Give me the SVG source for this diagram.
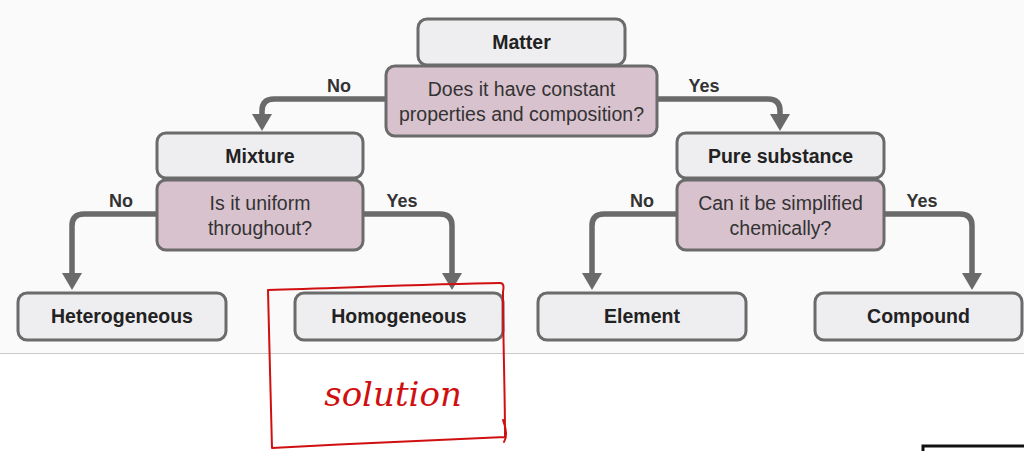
<svg xmlns="http://www.w3.org/2000/svg" width="1024" height="451" viewBox="0 0 1024 451">
<defs>
<style>
.box{fill:#eeedef;stroke:#6b6b6b;stroke-width:3}
.q{fill:#d8c2ce;stroke:#6b6b6b;stroke-width:3}
.lbl{font-family:"Liberation Sans",Arial,sans-serif;font-size:19.5px;font-weight:bold;fill:#222;text-anchor:middle}
.qt{font-family:"Liberation Sans",Arial,sans-serif;font-size:19.5px;fill:#333;text-anchor:middle}
.yn{font-family:"Liberation Sans",Arial,sans-serif;font-size:18px;font-weight:bold;fill:#333;text-anchor:middle}
.con{fill:none;stroke:#6a6a6a;stroke-width:5.5;stroke-linejoin:round}
</style>
<marker id="ah" markerUnits="userSpaceOnUse" viewBox="0 -10 17 20" refX="0" refY="0" markerWidth="17" markerHeight="20" orient="auto">
<path d="M0,-10 L17,0 L0,10 z" fill="#6a6a6a"/>
</marker>
</defs>
<rect x="0" y="0" width="1024" height="353" fill="#fafafa"/>
<rect x="0" y="353" width="1024" height="98" fill="#ffffff"/>
<line x1="0" y1="353.5" x2="1024" y2="353.5" stroke="#c9c9c9" stroke-width="1.2"/>

<g id="connectors">
<path class="con" d="M386,99 H274 Q262,99 262,111 V114" marker-end="url(#ah)"/>
<path class="con" d="M657,99 H768 Q780,99 780,111 V114" marker-end="url(#ah)"/>
<path class="con" d="M157,214 H84 Q72,214 72,226 V273" marker-end="url(#ah)"/>
<path class="con" d="M363,214 H440 Q452,214 452,226 V273" marker-end="url(#ah)"/>
<path class="con" d="M677,214 H604 Q592,214 592,226 V273" marker-end="url(#ah)"/>
<path class="con" d="M884,214 H960 Q972,214 972,226 V273" marker-end="url(#ah)"/>
<text class="yn" x="339" y="92">No</text>
<text class="yn" x="704" y="92">Yes</text>
<text class="yn" x="121" y="207">No</text>
<text class="yn" x="402" y="207">Yes</text>
<text class="yn" x="642" y="207">No</text>
<text class="yn" x="922" y="207">Yes</text>
</g>

<g id="matter">
<rect class="box" x="418" y="19" width="207" height="46" rx="9"/>
<text class="lbl" x="521.5" y="49">Matter</text>
</g>
<g id="q-constant">
<rect class="q" x="386" y="66" width="271" height="70" rx="9"/>
<text class="qt" x="521.5" y="96">Does it have constant</text>
<text class="qt" x="521.5" y="121">properties and composition?</text>
</g>

<g id="mixture">
<rect class="box" x="157" y="133" width="206" height="45" rx="9"/>
<text class="lbl" x="260" y="163">Mixture</text>
</g>
<g id="q-uniform">
<rect class="q" x="157" y="180" width="206" height="70" rx="9"/>
<text class="qt" x="260" y="210">Is it uniform</text>
<text class="qt" x="260" y="235">throughout?</text>
</g>

<g id="pure">
<rect class="box" x="677" y="133" width="207" height="45" rx="9"/>
<text class="lbl" x="780.5" y="163">Pure substance</text>
</g>
<g id="q-simplified">
<rect class="q" x="677" y="180" width="207" height="70" rx="9"/>
<text class="qt" x="780.5" y="210">Can it be simplified</text>
<text class="qt" x="780.5" y="235">chemically?</text>
</g>

<g id="heterogeneous">
<rect class="box" x="18" y="293" width="208" height="47" rx="9"/>
<text class="lbl" x="122" y="323">Heterogeneous</text>
</g>
<g id="homogeneous">
<rect class="box" x="295" y="293" width="208" height="47" rx="9"/>
<text class="lbl" x="399" y="323">Homogeneous</text>
</g>
<g id="element">
<rect class="box" x="538" y="293" width="208" height="47" rx="9"/>
<text class="lbl" x="642" y="323">Element</text>
</g>
<g id="compound">
<rect class="box" x="815" y="293" width="207" height="47" rx="9"/>
<text class="lbl" x="918.5" y="323">Compound</text>
</g>

<g id="annotation">
<path d="M268,290 C340,288 430,284 500,283 C504,283 504,287 503,292 C503,340 505,390 505,437 M503,420 C506,428 508,436 504,442 M272,448 C350,444 430,440 505,437 M268,290 C269,340 271,400 272,448" fill="none" stroke="#d01010" stroke-width="2" stroke-linecap="round"/>
<text x="393" y="406" font-family="DejaVu Serif, serif" font-style="italic" font-size="34" fill="#d01010" text-anchor="middle">solution</text>
<path d="M923,453 V446 H1024" fill="none" stroke="#111" stroke-width="3"/>
</g>
</svg>
